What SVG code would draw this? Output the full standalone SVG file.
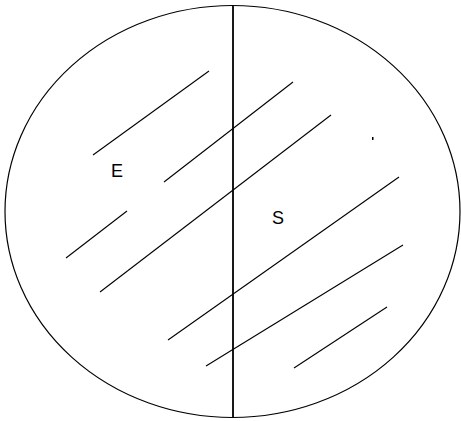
<svg xmlns="http://www.w3.org/2000/svg" width="461" height="421" viewBox="0 0 461 421">
<style>
.o{fill:none;stroke:#000;stroke-width:1.2}
.h{stroke:#000;stroke-width:1.1;fill:none}
.t{font-family:"Liberation Sans",Arial,sans-serif;font-size:18px;fill:#000}
</style>
<rect width="461" height="421" fill="#fff"/>
<g id="circle"><ellipse class="o" cx="232.5" cy="211.5" rx="227.5" ry="206"/></g>
<g id="connectors">
<line x1="233" y1="6" x2="233" y2="417" stroke="#000" stroke-width="1.8"/>
<line class="h" x1="93" y1="155" x2="209" y2="71"/>
<line class="h" x1="164" y1="182" x2="293" y2="82"/>
<line class="h" x1="66" y1="258" x2="127" y2="211"/>
<line class="h" x1="100" y1="292" x2="331" y2="115"/>
<line class="h" x1="168" y1="340" x2="399" y2="177"/>
<line class="h" x1="206" y1="366" x2="403" y2="245"/>
<line class="h" x1="294" y1="368" x2="387" y2="307"/>
<rect x="372" y="137" width="1.5" height="3" fill="#000"/>
</g>
<g id="E"><text class="t" x="111" y="177">E</text></g>
<g id="S"><text class="t" x="272" y="224">S</text></g>
</svg>
